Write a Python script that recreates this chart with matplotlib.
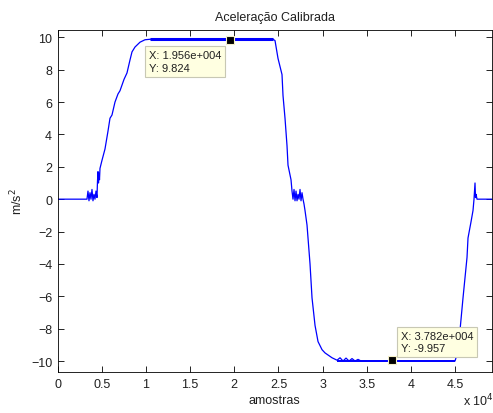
import matplotlib
matplotlib.use("Agg")
import matplotlib.pyplot as plt

# ─────────────────────────────────────────
#  DATA
# ─────────────────────────────────────────
amostras = [
    0, 3318, 3431, 3545, 3658, 3771, 3884, 3997, 4111, 4224, 4337, 4451,
    4507, 4564, 4621, 4677, 4734, 4790, 5017, 5357, 5696, 5923, 6149, 6489,
    6829, 7056, 7509, 7848, 8188, 8415, 8754, 9321, 9887, 10453,
    24382, 24609, 24948, 25401, 25515, 25741, 25968, 26081, 26421, 26534,
    26647, 26761, 26874, 26987, 27100, 27214, 27327, 27440, 27553, 27667, 27780,
    27893, 28006, 28233, 28346, 28573, 28800, 29140, 29480, 29933, 30272,
    31065, 31632, 31971, 32311, 32651, 32991, 33330, 33670, 34010, 34349,
    44991, 45217, 45557, 45897, 46350, 46463, 46803, 47029, 47142, 47256,
    47312, 47369, 47482, 49181,
]
aceleracao = [
    0.0, 0.0, 0.5, -0.1, 0.4, 0.0, 0.6, -0.1, 0.3, 0.0, 0.5, 0.1,
    1.1, 1.7, 1.0, 1.6, 1.2, 1.9, 2.4, 3.1, 4.2, 5.0, 5.2, 6.0,
    6.5, 6.7, 7.4, 7.8, 8.6, 9.1, 9.4, 9.7, 9.85, 9.88,
    9.88, 9.8, 8.7, 7.7, 6.4, 5.0, 3.3, 2.1, 1.2, 0.5,
    0.0, 0.6, -0.1, 0.5, -0.1, 0.3, 0.0, 0.6, -0.1, 0.4, 0.0,
    -0.3, -0.7, -1.6, -2.4, -4.0, -6.1, -7.8, -8.8, -9.3, -9.5,
    -9.8, -9.95, -9.8, -10.0, -9.82, -10.0, -9.85, -10.0, -9.9, -10.0,
    -10.0, -9.6, -8.1, -6.1, -3.6, -2.4, -1.4, -0.7, 0.0, 1.0,
    0.1, 0.3, 0.0, 0.0,
]

# plateau stretches drawn heavier (noisy, dense samples)
plato_x = [10453, 24382]
plato_y = [9.88, 9.88]
fundo_x = [31632, 44991]
fundo_y = [-9.97, -9.97]

# data tips
tips_x = [19560, 37820]
tips_y = [9.824, -9.957]
tips_txt = ["X: 1.956e+004\nY: 9.824", "X: 3.782e+004\nY: -9.957"]

xticks = [0, 5000, 10000, 15000, 20000, 25000, 30000, 35000, 40000, 45000]
xtick_labels = ["0", "0.5", "1", "1.5", "2", "2.5", "3", "3.5", "4", "4.5"]
yticks = [-10, -8, -6, -4, -2, 0, 2, 4, 6, 8, 10]

# ─────────────────────────────────────────
#  PLOT
# ─────────────────────────────────────────
plt.rcParams["font.family"] = ["Liberation Sans", "DejaVu Sans"]
plt.rcParams["font.size"] = 9

fig = plt.figure(figsize=(4.93, 4.14), dpi=100)
ax = fig.add_axes([0.117, 0.099, 0.881, 0.826])

ax.plot(amostras, aceleracao, color="blue", lw=0.9)
ax.plot(plato_x, plato_y, color="blue", lw=2.2, solid_capstyle="butt")
ax.plot(fundo_x, fundo_y, color="blue", lw=1.4, solid_capstyle="butt")

ax.plot(tips_x, tips_y, "s", color="black", markersize=6,
        markeredgecolor="#f5f0c8", markeredgewidth=0.8, zorder=5)

box = dict(boxstyle="square,pad=0.35", fc="#ffffe1", ec="#c8c8b4", lw=0.8)
ax.annotate(tips_txt[0], (tips_x[0], tips_y[0]), xytext=(-9, -10),
            textcoords="offset pixels", ha="right", va="top",
            multialignment="left", fontsize=8, bbox=box,
            linespacing=1.35, zorder=6, color="#202020")
ax.annotate(tips_txt[1], (tips_x[1], tips_y[1]), xytext=(9, 7),
            textcoords="offset pixels", ha="left", va="bottom",
            multialignment="left", fontsize=8, bbox=box,
            linespacing=1.35, zorder=6, color="#202020")

ax.set_xlim(0, 49181)
ax.set_ylim(-10.68, 10.45)
ax.set_xticks(xticks)
ax.set_xticklabels(xtick_labels)
ax.set_yticks(yticks)
ax.tick_params(direction="in", top=True, right=True, length=4, width=0.6,
               labelsize=9, pad=4, labelcolor="#202020")
for s in ax.spines.values():
    s.set_linewidth(0.6)

ax.set_title("Aceleração Calibrada", fontsize=9, pad=7, color="#202020")
ax.set_xlabel("amostras", fontsize=9, labelpad=3, color="#202020")
ax.set_ylabel("m/s$^2$", fontsize=9, labelpad=4, color="#202020")
fig.text(0.94, 0.012, "x 10$^4$", fontsize=9, ha="left", va="bottom",
         color="#202020")

fig.savefig("out.png", dpi=100)
